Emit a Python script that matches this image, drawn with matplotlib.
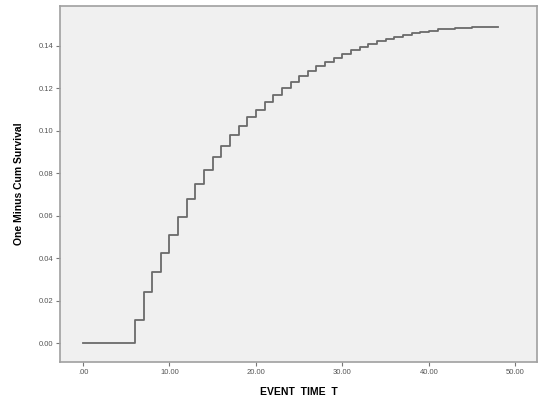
import matplotlib
matplotlib.use("Agg")
import matplotlib.pyplot as plt

# step times and one-minus-cum-survival values
times = [0, 6, 7, 8, 9, 10, 11, 12, 13, 14, 15, 16, 17, 18, 19, 20, 21, 22, 23, 24,
         25, 26, 27, 28, 29, 30, 31, 32, 33, 34, 35, 36, 37, 38, 39, 40, 41, 42, 43,
         44, 45, 46, 47, 48]
values = [0.0, 0.0108, 0.0240, 0.0336, 0.0422, 0.0508, 0.0592, 0.0676, 0.0751, 0.0814,
          0.0877, 0.0927, 0.0979, 0.1022, 0.1062, 0.1098, 0.1135, 0.1168, 0.1200, 0.1228,
          0.1255, 0.1280, 0.1303, 0.1324, 0.1344, 0.1362, 0.1378, 0.1393, 0.1407, 0.1420,
          0.1432, 0.1442, 0.1451, 0.1459, 0.1466, 0.1471, 0.1476, 0.1480, 0.1483, 0.1485,
          0.1487, 0.1488, 0.1489, 0.1489]

xticks = [0, 10, 20, 30, 40, 50]
xlabels = [".00", "10.00", "20.00", "30.00", "40.00", "50.00"]
yticks = [0.0, 0.02, 0.04, 0.06, 0.08, 0.10, 0.12, 0.14]
ylabels = ["0.00", "0.02", "0.04", "0.06", "0.08", "0.10", "0.12", "0.14"]

plt.rcParams['font.family'] = ['Liberation Sans', 'DejaVu Sans']

fig = plt.figure(figsize=(5.39, 4.05), dpi=100)
ax = fig.add_axes([0.1113, 0.106, 0.885, 0.879])
ax.set_facecolor("#f0f0f0")

ax.step(times, values, where="post", color="#6a6a6a", linewidth=1.3)

ax.set_xlim(-2.66, 52.5)
ax.set_ylim(-0.0089, 0.1586)
ax.set_xticks(xticks)
ax.set_xticklabels(xlabels)
ax.set_yticks(yticks)
ax.set_yticklabels(ylabels)
ax.tick_params(labelsize=5.5, labelcolor="#555555", color="#777777", length=3, width=0.8, pad=2)

for s in ax.spines.values():
    s.set_color("#a0a0a0")
    s.set_linewidth(1.2)

ax.set_xlabel("EVENT  TIME  T", fontsize=7.5, fontweight="bold", labelpad=8)
ax.set_ylabel("One Minus Cum Survival", fontsize=7.5, fontweight="bold", labelpad=10)

fig.savefig("out.png", dpi=100, facecolor="white")
